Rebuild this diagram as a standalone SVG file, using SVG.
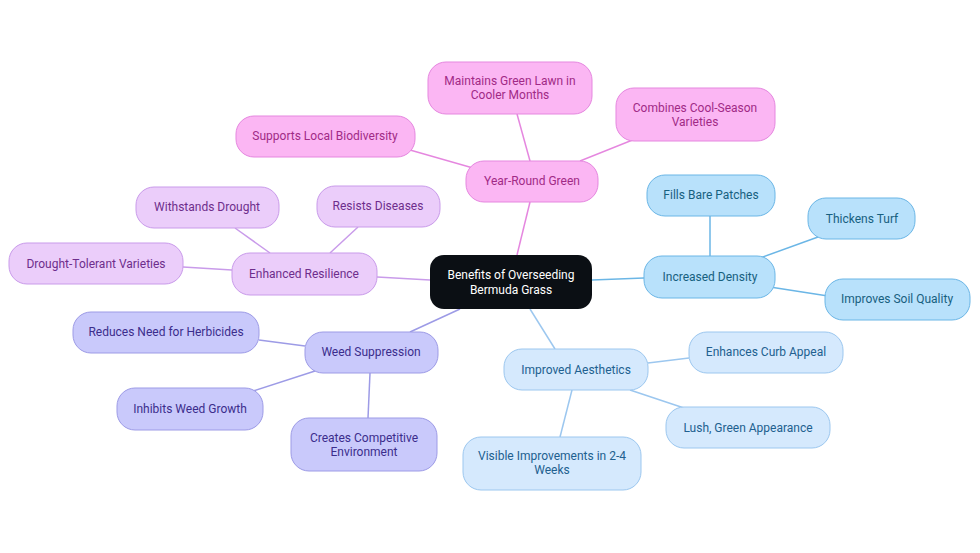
<svg xmlns="http://www.w3.org/2000/svg" width="980" height="553" viewBox="0 0 980 553">
<style>
text{font-family:Roboto,"Liberation Sans",sans-serif;font-size:12px;text-anchor:middle;dominant-baseline:central}
.pk rect{fill:#fbb6f3;stroke:#e587df}.pk text{fill:#a12a86}
.pu rect{fill:#ebcdfa;stroke:#c99bea}.pu text{fill:#6e2d8c}
.in rect{fill:#c9c9fb;stroke:#9d9be6}.in text{fill:#3b2d8c}
.lb rect{fill:#d5e9fd;stroke:#9cc7ef}.lb text{fill:#21608f}
.bl rect{fill:#b8e1fb;stroke:#6bb6e6}.bl text{fill:#17607f}
#edges line{stroke-width:1.5;fill:none}
</style>
<g id="edges">
<line x1="517" y1="255" x2="530" y2="202" stroke="#e587df"/>
<line x1="530" y1="161" x2="517" y2="114" stroke="#e587df"/>
<line x1="580" y1="161" x2="640" y2="137" stroke="#e587df"/>
<line x1="480" y1="170" x2="410" y2="150" stroke="#e587df"/>
<line x1="430" y1="280" x2="377" y2="277" stroke="#c99bea"/>
<line x1="270" y1="253" x2="235" y2="228" stroke="#c99bea"/>
<line x1="330" y1="253" x2="358" y2="227" stroke="#c99bea"/>
<line x1="232" y1="270" x2="183" y2="267" stroke="#c99bea"/>
<line x1="460" y1="309" x2="410" y2="332" stroke="#9d9be6"/>
<line x1="305" y1="346" x2="259" y2="340" stroke="#9d9be6"/>
<line x1="315" y1="371" x2="250" y2="392" stroke="#9d9be6"/>
<line x1="370" y1="373" x2="368" y2="418" stroke="#9d9be6"/>
<line x1="530" y1="309" x2="555" y2="349" stroke="#9cc7ef"/>
<line x1="648" y1="363" x2="689" y2="358" stroke="#9cc7ef"/>
<line x1="630" y1="390" x2="690" y2="410" stroke="#9cc7ef"/>
<line x1="572" y1="390" x2="560" y2="437" stroke="#9cc7ef"/>
<line x1="592" y1="280" x2="644" y2="278" stroke="#6bb6e6"/>
<line x1="710" y1="256" x2="710" y2="216" stroke="#6bb6e6"/>
<line x1="760" y1="258" x2="818" y2="237" stroke="#6bb6e6"/>
<line x1="770" y1="287" x2="828" y2="296" stroke="#6bb6e6"/>
</g>
<g id="center"><rect x="430" y="255" width="162" height="54" rx="14" fill="#0b0f14"/><text x="511" y="275" fill="#fff">Benefits of Overseeding</text><text x="511" y="290" fill="#fff">Bermuda Grass</text></g>
<g id="yrg" class="pk"><rect x="466" y="161" width="132" height="41" rx="18"/><text x="532" y="181">Year-Round Green</text></g>
<g id="mgl" class="pk"><rect x="428" y="62" width="164" height="52" rx="18"/><text x="510" y="81">Maintains Green Lawn in</text><text x="510" y="95">Cooler Months</text></g>
<g id="ccs" class="pk"><rect x="616" y="88" width="159" height="53" rx="18"/><text x="695" y="108">Combines Cool-Season</text><text x="695" y="122">Varieties</text></g>
<g id="slb" class="pk"><rect x="236" y="116" width="179" height="41" rx="18"/><text x="325" y="136">Supports Local Biodiversity</text></g>
<g id="er" class="pu"><rect x="232" y="253" width="145" height="42" rx="18"/><text x="304" y="274">Enhanced Resilience</text></g>
<g id="wd" class="pu"><rect x="136" y="187" width="143" height="41" rx="18"/><text x="207" y="207">Withstands Drought</text></g>
<g id="rd" class="pu"><rect x="317" y="186" width="123" height="41" rx="18"/><text x="378" y="206">Resists Diseases</text></g>
<g id="dtv" class="pu"><rect x="9" y="243" width="174" height="41" rx="18"/><text x="96" y="264">Drought-Tolerant Varieties</text></g>
<g id="ws" class="in"><rect x="305" y="332" width="133" height="41" rx="18"/><text x="371" y="352">Weed Suppression</text></g>
<g id="rnh" class="in"><rect x="73" y="312" width="186" height="41" rx="18"/><text x="166" y="332">Reduces Need for Herbicides</text></g>
<g id="iwg" class="in"><rect x="117" y="388" width="146" height="42" rx="18"/><text x="190" y="409">Inhibits Weed Growth</text></g>
<g id="cce" class="in"><rect x="291" y="418" width="146" height="53" rx="18"/><text x="364" y="438">Creates Competitive</text><text x="364" y="452">Environment</text></g>
<g id="ia" class="lb"><rect x="504" y="349" width="144" height="41" rx="18"/><text x="576" y="370">Improved Aesthetics</text></g>
<g id="eca" class="lb"><rect x="689" y="332" width="154" height="41" rx="18"/><text x="766" y="352">Enhances Curb Appeal</text></g>
<g id="lga" class="lb"><rect x="666" y="407" width="164" height="41" rx="18"/><text x="748" y="428">Lush, Green Appearance</text></g>
<g id="vi" class="lb"><rect x="463" y="437" width="178" height="53" rx="18"/><text x="552" y="456">Visible Improvements in 2-4</text><text x="552" y="470">Weeks</text></g>
<g id="id" class="bl"><rect x="644" y="256" width="131" height="42" rx="18"/><text x="710" y="277">Increased Density</text></g>
<g id="fbp" class="bl"><rect x="647" y="175" width="128" height="41" rx="18"/><text x="711" y="195">Fills Bare Patches</text></g>
<g id="tt" class="bl"><rect x="808" y="198" width="107" height="41" rx="18"/><text x="862" y="219">Thickens Turf</text></g>
<g id="isq" class="bl"><rect x="825" y="279" width="145" height="41" rx="18"/><text x="897" y="299">Improves Soil Quality</text></g>
</svg>
